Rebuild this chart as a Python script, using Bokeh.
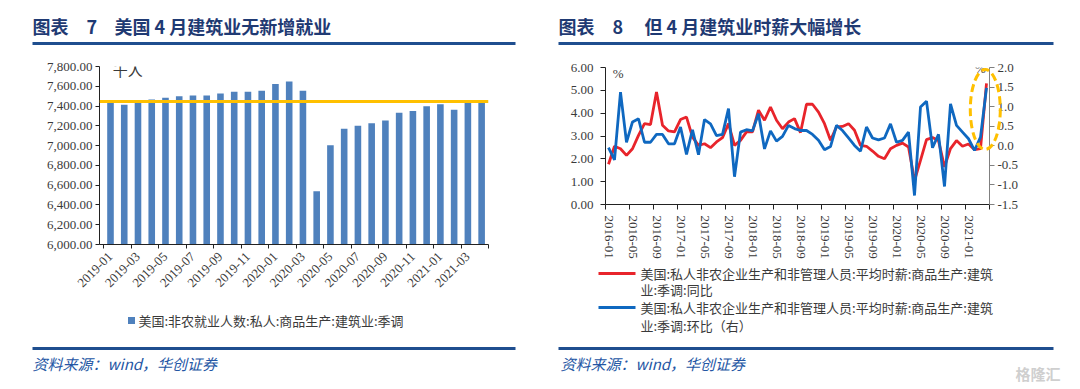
import math
from bokeh.plotting import figure
from bokeh.models import Range1d, LinearAxis, FixedTicker, NumeralTickFormatter, Span, Label
from bokeh.layouts import row, column
from bokeh.embed import file_html
from bokeh.resources import INLINE
from bokeh.core.properties import value

# ---------------- data ----------------
title_left = ["图表　7", "美国 4 月建筑业无新增就业"]
title_right = ["图表　8", "但 4 月建筑业时薪大幅增长"]
source_text = "资料来源：wind，华创证券"

emp_months = ["2019-01", "2019-02", "2019-03", "2019-04", "2019-05", "2019-06", "2019-07",
              "2019-08", "2019-09", "2019-10", "2019-11", "2019-12", "2020-01", "2020-02",
              "2020-03", "2020-04", "2020-05", "2020-06", "2020-07", "2020-08", "2020-09",
              "2020-10", "2020-11", "2020-12", "2021-01", "2021-02", "2021-03", "2021-04"]
emp_values = [7440, 7413, 7445, 7467, 7484, 7498, 7508, 7508, 7528, 7545, 7545, 7555, 7622, 7649,
              7555, 6539, 7003, 7170, 7200, 7227, 7255, 7333, 7350, 7397, 7417, 7363, 7440, 7447]
emp_unit = "千人"
emp_legend = "美国:非农就业人数:私人:商品生产:建筑业:季调"
emp_ticks = [6000, 6200, 6400, 6600, 6800, 7000, 7200, 7400, 7600, 7800]

wage_months = [f"{y}-{m:02d}" for y in range(2016, 2022) for m in range(1, 13)][:64]
wage_yoy = [1.76, 2.55, 2.44, 2.15, 2.44, 3.03, 3.54, 3.50, 4.93, 3.47, 3.22, 3.18,
            3.72, 3.83, 2.95, 2.59, 2.66, 2.49, 2.74, 2.93, 3.54, 2.59, 2.81, 3.18,
            3.18, 4.13, 3.69, 4.27, 3.69, 3.32, 3.61, 3.76, 3.15, 4.39, 4.39, 4.05,
            3.54, 2.81, 3.40, 3.42, 3.54, 3.25, 2.59, 2.55, 2.34, 2.11, 2.00, 2.44,
            2.59, 2.69, 2.52, 1.05, 1.93, 2.84, 2.93, 2.80, 1.65, 2.45, 2.80, 2.55,
            2.65, 2.40, 2.45, 5.30]
wage_mom = [-0.05, -0.36, 1.37, 0.09, 0.61, 0.69, 0.09, 0.09, 0.29, 0.29, 0.05, 0.05,
            0.48, -0.22, 0.41, -0.23, 0.67, 0.56, 0.26, 0.29, 0.95, -0.79, 0.35, 0.41,
            0.38, 0.82, -0.08, 0.38, 0.12, 0.24, 0.52, 0.44, 0.39, 0.39, 0.29, 0.14,
            -0.10, -0.02, 0.52, 0.39, 0.20, 0.01, -0.14, 0.48, 0.20, 0.15, 0.20, 0.56,
            0.09, 0.14, 0.35, -1.27, 0.99, 1.14, -0.05, 0.29, -1.04, 1.07, 0.52, 0.35,
            0.18, -0.12, 0.22, 1.48]
yoy_ticks = [0, 1, 2, 3, 4, 5, 6]
mom_ticks = [-1.5, -1.0, -0.5, 0.0, 0.5, 1.0, 1.5, 2.0]
yoy_legend = ["美国:私人非农企业生产和非管理人员:平均时薪:商品生产:建筑", "业:季调:同比"]
mom_legend = ["美国:私人非农企业生产和非管理人员:平均时薪:商品生产:建筑", "业:季调:环比（右）"]

# ---------------- styles ----------------
NAVY = "#1f3a73"
LINEBLUE = "#1f4e8f"
SRC = "#2456a4"
BAR = "#4f81bd"
RED = "#e8242b"
BLUE = "#0f68c0"
GOLD = "#ffc000"
TXT = "#3a3a3a"
SERIF = "Liberation Serif"
CJK = "Noto Sans CJK SC"

LW, RW = 553, 527          # column widths (page is 1080 wide, body margin 0)
HH = 50                    # header height


def panel(w, h):
    f = figure(width=w, height=h, x_range=Range1d(0, w), y_range=Range1d(h, 0),
               output_backend="svg", toolbar_location=None, min_border=0,
               x_axis_location=None, y_axis_location=None, frame_align=False)
    f.grid.visible = False
    f.outline_line_color = None
    return f


def txt(f, x, y, s, size, color=TXT, style="normal", align="left"):
    f.text(x=[x], y=[y], text=[s], text_font=value(CJK), text_font_size=size,
           text_font_style=style, text_color=color, text_baseline="middle", text_align=align)


def style_axis(ax):
    ax.major_label_text_font = SERIF
    ax.major_label_text_font_size = "13px"
    ax.major_label_text_color = TXT
    ax.axis_line_color = "#222222"
    ax.major_tick_line_color = "#222222"
    ax.minor_tick_line_color = "#222222"


# ---------------- left column ----------------
h1 = panel(LW, HH)
txt(h1, 32, 25, title_left[0], "18px", NAVY, "bold")
txt(h1, 114, 25, title_left[1], "18px", NAVY, "bold")
h1.segment(x0=[32], y0=[43], x1=[515], y1=[43], line_width=3, line_color=LINEBLUE)

n1 = len(emp_months)
xe = list(range(n1))
p1 = figure(width=LW, height=255, x_range=Range1d(-0.8, n1 - 0.5), y_range=Range1d(6000, 7800),
            output_backend="svg", toolbar_location=None, frame_align=False,
            min_border_left=99, min_border_right=65, min_border_top=16, min_border_bottom=61)
p1.outline_line_color = None
p1.grid.visible = False
p1.vbar(x=xe, top=emp_values, bottom=6000, width=0.48, fill_color=BAR, line_color=None)
p1.add_layout(Span(location=emp_values[-1], dimension="width", line_color=GOLD, line_width=3))
p1.add_layout(Label(x=1.25, y=7770, text=emp_unit, text_font=CJK, text_font_size="15px",
                    text_color=TXT, text_align="center", text_baseline="middle"))
lab_idx = xe[::2]
p1.xaxis.ticker = FixedTicker(ticks=lab_idx, minor_ticks=[i - 0.5 for i in lab_idx] + [n1 - 0.5])
p1.xaxis.major_label_overrides = {i: emp_months[i] for i in lab_idx}
p1.xaxis.major_label_orientation = math.pi / 4
p1.xaxis.major_tick_out = 0
p1.xaxis.major_tick_in = 0
p1.xaxis.minor_tick_out = 4
p1.xaxis.minor_tick_in = 0
p1.xaxis.major_label_standoff = 6
p1.yaxis.ticker = FixedTicker(ticks=emp_ticks, minor_ticks=[])
p1.yaxis.formatter = NumeralTickFormatter(format="0,0.00")
p1.yaxis.major_tick_out = 4
p1.yaxis.major_tick_in = 0
p1.yaxis.major_label_standoff = 3
style_axis(p1.xaxis[0])
style_axis(p1.yaxis[0])

f1 = panel(LW, 84)
f1.scatter(x=[131], y=[15], marker="square", size=7, fill_color=BAR, line_color=None)
txt(f1, 138, 15, emp_legend, "13px")
f1.segment(x0=[32], y0=[43], x1=[515], y1=[43], line_width=3, line_color=LINEBLUE)
txt(f1, 32, 58, source_text, "15px", SRC, "italic")

# ---------------- right column ----------------
h2 = panel(RW, HH)
txt(h2, 5, 25, title_right[0], "18px", NAVY, "bold")
txt(h2, 91, 25, title_right[1], "18px", NAVY, "bold")
h2.segment(x0=[5], y0=[43], x1=[500], y1=[43], line_width=3, line_color=LINEBLUE)

n2 = len(wage_months)
xw = list(range(n2))
p2 = figure(width=RW, height=212, x_range=Range1d(-0.5, n2 - 0.5), y_range=Range1d(0, 6),
            output_backend="svg", toolbar_location=None, frame_align=False,
            min_border_left=52, min_border_right=91, min_border_top=17, min_border_bottom=58)
p2.outline_line_color = None
p2.grid.visible = False
p2.extra_y_ranges = {"mom": Range1d(-1.5, 2.0)}
p2.line(x=xw, y=wage_yoy, line_color=RED, line_width=2.8)
p2.line(x=xw, y=wage_mom, line_color=BLUE, line_width=2.8, y_range_name="mom")

# highlight ring around the latest observation (overlay level so it may cross the frame edge)
p2.ellipse(x=[n2 - 1.2], y=[4.16], width=5.0, height=3.5, fill_color=None,
           line_color=GOLD, line_width=3, line_dash="8 4", level="overlay")
p2.add_layout(Label(x=1.6, y=5.75, text="%", text_font=SERIF, text_font_size="13px",
                    text_color=TXT, text_align="center", text_baseline="middle"))
p2.add_layout(Label(x=62.0, y=5.95, text="%", text_font=SERIF, text_font_size="13px",
                    text_color=TXT, text_align="center", text_baseline="middle"))

wl_idx = xw[::4]
p2.xaxis.ticker = FixedTicker(ticks=wl_idx, minor_ticks=[i - 0.5 for i in wl_idx] + [n2 - 0.5])
p2.xaxis.major_label_overrides = {i: wage_months[i] for i in wl_idx}
p2.xaxis.major_label_orientation = "vertical"
p2.xaxis.major_tick_out = 0
p2.xaxis.major_tick_in = 0
p2.xaxis.minor_tick_out = 5
p2.xaxis.minor_tick_in = 0
p2.xaxis.major_label_standoff = 6
p2.yaxis.ticker = FixedTicker(ticks=yoy_ticks, minor_ticks=[])
p2.yaxis.formatter = NumeralTickFormatter(format="0.00")
p2.yaxis.major_tick_out = 5
p2.yaxis.major_tick_in = 0
p2.yaxis.major_label_standoff = 7
style_axis(p2.xaxis[0])
style_axis(p2.yaxis[0])
rax = LinearAxis(y_range_name="mom", ticker=FixedTicker(ticks=mom_ticks, minor_ticks=[]),
                 formatter=NumeralTickFormatter(format="0.0"))
style_axis(rax)
rax.axis_line_color = "#808080"
rax.major_tick_line_color = "#808080"
rax.major_tick_out = 5
rax.major_tick_in = 0
rax.major_label_standoff = 3
p2.add_layout(rax, "right")

f2 = panel(RW, 127)
f2.segment(x0=[45], y0=[11], x1=[82], y1=[11], line_width=3, line_color=RED)
txt(f2, 87, 11, yoy_legend[0], "13px")
txt(f2, 87, 27, yoy_legend[1], "13px")
f2.segment(x0=[45], y0=[45], x1=[82], y1=[45], line_width=3, line_color=BLUE)
txt(f2, 87, 45, mom_legend[0], "13px")
txt(f2, 87, 63, mom_legend[1], "13px")
f2.segment(x0=[5], y0=[86], x1=[500], y1=[86], line_width=3, line_color=LINEBLUE)
txt(f2, 7, 101, source_text, "15px", SRC, "italic")
txt(f2, 462, 111, "格隆汇", "15px", "#cfcfcf", "bold")

layout = row(column(h1, p1, f1), column(h2, p2, f2))
open("out.html", "w").write(file_html(layout, INLINE))
